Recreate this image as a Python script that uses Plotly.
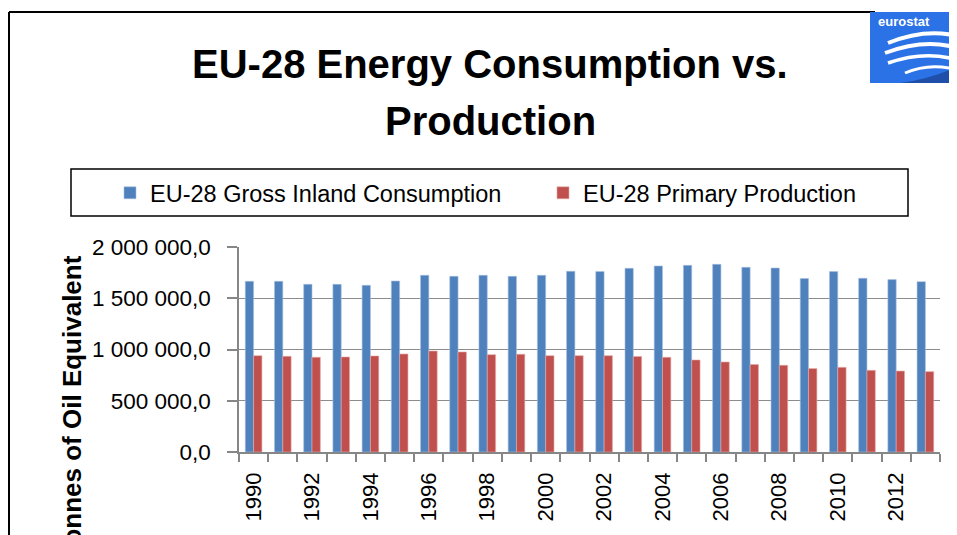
import plotly.graph_objects as go

years = list(range(1990, 2014))
consumption = [1665000, 1665000, 1636000, 1636000, 1626000, 1668000, 1724000, 1714000,
               1724000, 1714000, 1724000, 1763000, 1760000, 1792000, 1815000, 1821000,
               1831000, 1802000, 1795000, 1692000, 1760000, 1695000, 1682000, 1662000]
production = [940000, 933000, 924000, 927000, 937000, 956000, 985000, 976000,
              950000, 953000, 940000, 940000, 940000, 931000, 924000, 898000,
              878000, 853000, 846000, 814000, 826000, 797000, 790000, 784000]
label_years = list(range(1990, 2013, 2))
ytick_vals = [0, 500000, 1000000, 1500000, 2000000]

# page body has an 8px margin, so the figure is shifted; compensate
OFF = 8
W, H = 957, 535
L, R, T, B = 239, 940, 247, 452

def fx(p):
    return (p - L) / (R - L)

def fy(p):
    return (B - p) / (B - T)

FONT = "Liberation Sans"

fig = go.Figure()
fig.add_trace(go.Bar(x=years, y=consumption, name="EU-28 Gross Inland Consumption",
                     legend="legend",
                     marker=dict(color="#4F81BD", line=dict(color="#a9c1e0", width=0.6))))
fig.add_trace(go.Bar(x=years, y=production, name="EU-28 Primary Production",
                     legend="legend2",
                     marker=dict(color="#C0504D", line=dict(color="#e4a9a7", width=0.6))))

legend_common = dict(orientation="h", xanchor="left", yanchor="middle",
                     font=dict(size=23.5, family=FONT), bgcolor="rgba(0,0,0,0)",
                     itemclick=False)

fig.update_layout(
    width=W - OFF, height=H - OFF,
    margin=dict(l=L - OFF, r=W - R, t=T - OFF, b=H - B, pad=0),
    paper_bgcolor="white", plot_bgcolor="white",
    separators=", ",
    barmode="group", bargap=0.43, bargroupgap=0,
    font=dict(family=FONT, color="black"),
    showlegend=True,
    legend=dict(x=fx(110), y=fy(193), **legend_common),
    legend2=dict(x=fx(543), y=fy(193), **legend_common),
    xaxis=dict(range=[1989.5, 2013.5], tickmode="array", tickvals=label_years,
               ticktext=[str(y) for y in label_years], tickangle=-90,
               ticks="", ticklen=0, tickfont=dict(size=22, family=FONT),
               ticklabelstandoff=10,
               showline=True, linecolor="#868686", linewidth=1.5, showgrid=False,
               zeroline=False,
               minor=dict(ticks="outside", tick0=1989.5, dtick=1, ticklen=8,
                          tickcolor="#868686", tickwidth=1.5, showgrid=False)),
    yaxis=dict(range=[0, 2000000], tickmode="array", tickvals=ytick_vals,
               tickformat=",.1f", ticks="outside", ticklen=10, tickcolor="#868686",
               tickwidth=1.5, tickfont=dict(size=22.5, family=FONT),
               ticklabelstandoff=12,
               showline=True, linecolor="#868686", linewidth=1.5,
               showgrid=True, gridcolor="#8c8c8c", gridwidth=1.3, zeroline=False),
)

shapes = []
# outer chart border (top and left visible)
shapes.append(dict(type="line", xref="paper", yref="paper", x0=fx(9), x1=fx(875),
                   y0=fy(12), y1=fy(12), line=dict(color="black", width=2)))
shapes.append(dict(type="line", xref="paper", yref="paper", x0=fx(9), x1=fx(9),
                   y0=fy(12), y1=fy(545), line=dict(color="black", width=2)))
# legend border
shapes.append(dict(type="rect", xref="paper", yref="paper", x0=fx(71), x1=fx(908),
                   y0=fy(169), y1=fy(216), line=dict(color="black", width=1.5),
                   fillcolor="rgba(0,0,0,0)"))
# eurostat logo
shapes.append(dict(type="rect", xref="paper", yref="paper", x0=fx(870), x1=fx(960),
                   y0=fy(12), y1=fy(83), line=dict(width=0), fillcolor="#2a72e6", layer="above"))
def arc(x0, y0, cx, cy, x1, y1):
    return "M %f,%f Q %f,%f %f,%f" % (fx(x0), fy(y0), fx(cx), fy(cy), fx(x1), fy(y1))
for (a, b, c, d, e, f_, w) in [
    (888, 43, 925, 28, 957, 36, 4),
    (885, 53, 925, 38, 957, 48, 4),
    (888, 63, 925, 50, 957, 60, 3.5),
    (905, 73, 930, 62, 957, 70, 3)]:
    shapes.append(dict(type="path", xref="paper", yref="paper", path=arc(a, b, c, d, e, f_),
                       line=dict(color="white", width=w), layer="above"))
shapes.append(dict(type="path", xref="paper", yref="paper",
                   path="M %f,%f Q %f,%f %f,%f L %f,%f Z" % (fx(900), fy(83), fx(935), fy(78),
                                                            fx(960), fy(65), fx(960), fy(83)),
                   line=dict(width=0), fillcolor="#1f4fa8", layer="above"))
fig.update_layout(shapes=shapes)

annotations = [
    dict(text="<b>EU-28 Energy Consumption vs.</b>", xref="paper", yref="paper",
         x=fx(490), y=fy(64), xanchor="center", yanchor="middle", showarrow=False,
         font=dict(size=40, family=FONT, color="black")),
    dict(text="<b>Production</b>", xref="paper", yref="paper",
         x=fx(490), y=fy(121), xanchor="center", yanchor="middle", showarrow=False,
         font=dict(size=40, family=FONT, color="black")),
    dict(text="<b>Tonnes of Oil Equivalent</b>", xref="paper", yref="paper",
         x=fx(71), y=fy(254), xanchor="center", yanchor="top", textangle=-90, showarrow=False,
         font=dict(size=26, family=FONT, color="black")),
    dict(text="<b>eurostat</b>", xref="paper", yref="paper", x=fx(876), y=fy(22),
         xanchor="left", yanchor="middle", showarrow=False,
         font=dict(size=13, family=FONT, color="white")),
]
fig.update_layout(annotations=annotations)

fig.write_html("out.html")
